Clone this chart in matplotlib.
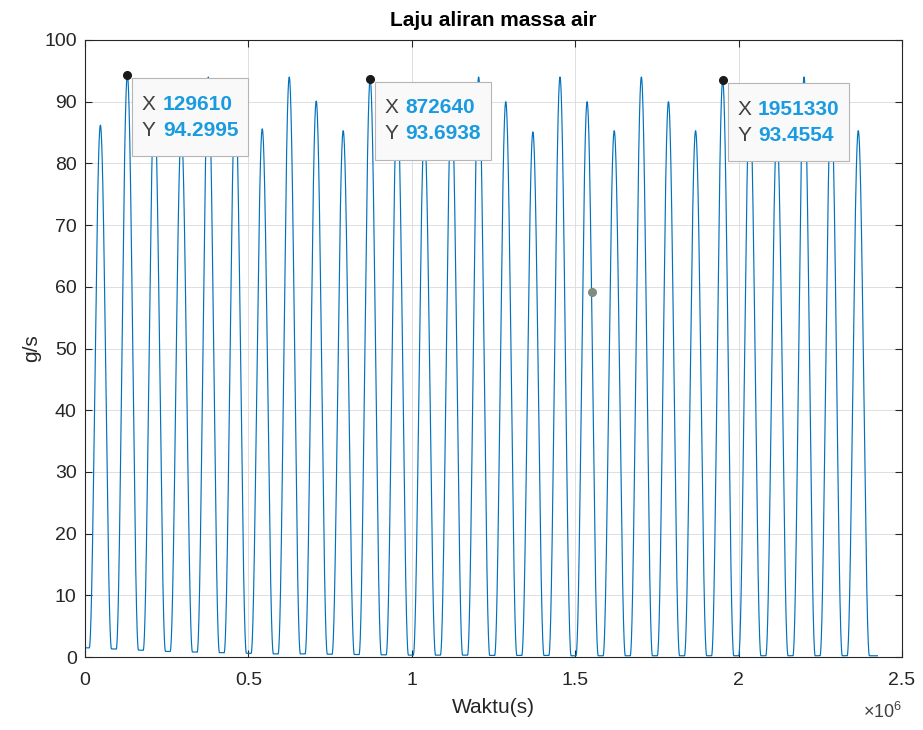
import matplotlib
matplotlib.use("Agg")
import matplotlib.pyplot as plt
import numpy as np
from matplotlib.offsetbox import (AnnotationBbox, TextArea, HPacker, VPacker,
                                  DrawingArea)
from matplotlib.ticker import MultipleLocator, FuncFormatter

plt.rcParams['font.family'] = ['Liberation Sans', 'DejaVu Sans']
plt.rcParams['mathtext.fontset'] = 'custom'
plt.rcParams['mathtext.rm'] = 'Liberation Sans'

# waktu puncak tiap pulsa (s) dan tinggi puncak (g/s)
peak_t = [47050, 129610, 212170, 294730, 377290, 459840, 542400, 624960,
          707520, 790080, 872640, 955620, 1038590, 1121570, 1204540,
          1287520, 1370500, 1453470, 1536450, 1619420, 1702400, 1785380,
          1868350, 1951330, 2034310, 2117280, 2200260, 2283230, 2366210]
peak_h = [86.2, 94.2995, 90.0, 85.3, 94.0, 90.1, 85.6, 94.0, 90.1, 85.3,
          93.6938, 90.0, 85.3, 90.0, 94.0, 90.0, 85.1, 94.0, 90.0, 85.3,
          94.0, 90.0, 85.3, 93.4554, 90.0, 85.2, 94.0, 90.0, 85.3]
# level dasar di antara pulsa (awal, celah, akhir)
trough_lvl = [1.5, 1.3, 1.1, 0.9, 0.8, 0.7, 0.6, 0.5, 0.5, 0.45, 0.4, 0.35,
              0.3, 0.3, 0.3, 0.25, 0.25, 0.25, 0.2, 0.2, 0.2, 0.2, 0.2, 0.2,
              0.2, 0.2, 0.2, 0.2, 0.2, 0.2]
t_end = 2425000
tip_idx = [1, 10, 23]      # pulsa yang diberi datatip
dot_t = 1550000            # titik abu-abu
half_w = 34000             # setengah lebar pulsa

pt = np.array(peak_t, dtype=float)
ph = np.array(peak_h)
t = np.union1d(np.arange(0, t_end, 250.0), pt)
trough_t = np.concatenate(([0], (pt[:-1] + pt[1:]) / 2, [t_end]))
base = np.interp(t, trough_t, trough_lvl)
y = base.copy()
for tp, h in zip(pt, ph):
    m = np.abs(t - tp) < half_w
    shape = 0.5 + 0.5 * np.cos(np.pi * (t[m] - tp) / half_w)
    y[m] = base[m] + (h - base[m]) * shape

fig = plt.figure(figsize=(9.23, 7.30), dpi=100)
ax = fig.add_axes([85 / 923, 1 - 657 / 730, (902 - 85) / 923, (657 - 40) / 730])
ax.plot(t, y, color='#0072BD', lw=0.85)

ax.set_xlim(0, 2.5e6)
ax.set_ylim(0, 100)
ax.xaxis.set_major_locator(MultipleLocator(5e5))
ax.xaxis.set_major_formatter(FuncFormatter(lambda v, p: f'{v / 1e6:g}'))
ax.yaxis.set_major_locator(MultipleLocator(10))
ax.grid(True, color='#dedede', lw=0.7)
ax.set_axisbelow(True)
ax.tick_params(direction='in', top=True, right=True, length=5, width=0.8,
               labelsize=14, colors='#262626')
ax.tick_params(axis='x', pad=11)
ax.tick_params(axis='y', pad=6)
for s in ax.spines.values():
    s.set_color('#262626')
    s.set_linewidth(0.8)

ax.set_title('Laju aliran massa air', fontsize=15, fontweight='bold', pad=10)
ax.set_xlabel('Waktu(s)', fontsize=15, color='#262626', labelpad=6)
ax.set_ylabel('g/s', fontsize=15, color='#262626', labelpad=2)
ax.text(1.0, -0.072, r'$\times10^{6}$', transform=ax.transAxes,
        ha='right', va='top', fontsize=13, color='#404040')

# datatip
for i in tip_idx:
    rows = [DrawingArea(1, 0)]
    for lab, val in (('X', f'{pt[i]:.0f}'), ('Y', f'{ph[i]:.4f}')):
        rows.append(HPacker(children=[
            TextArea(lab, textprops=dict(color='#404040', size=15)),
            TextArea(val, textprops=dict(color='#1a9be0', size=15, weight='bold'))],
            sep=5, align='baseline'))
    rows.append(DrawingArea(1, 0))
    box = VPacker(children=rows, sep=5, pad=0, align='left')
    ab = AnnotationBbox(box, (pt[i], ph[i]), xybox=(10.5, -9), xycoords='data',
                        boxcoords='offset points', box_alignment=(0, 1),
                        zorder=6,
                        bboxprops=dict(boxstyle='square,pad=0.68', fc='#f9f9f9',
                                       ec='#b5b5b5', lw=0.8))
    ax.add_artist(ab)
ax.plot(pt[tip_idx], ph[tip_idx], 'o', color='#1a1a1a', ms=5.5, zorder=7)
ax.plot([dot_t], [np.interp(dot_t, t, y)], 'o', color='#7f8c7f', ms=5.5, zorder=7)

plt.savefig('out.png', dpi=100)
